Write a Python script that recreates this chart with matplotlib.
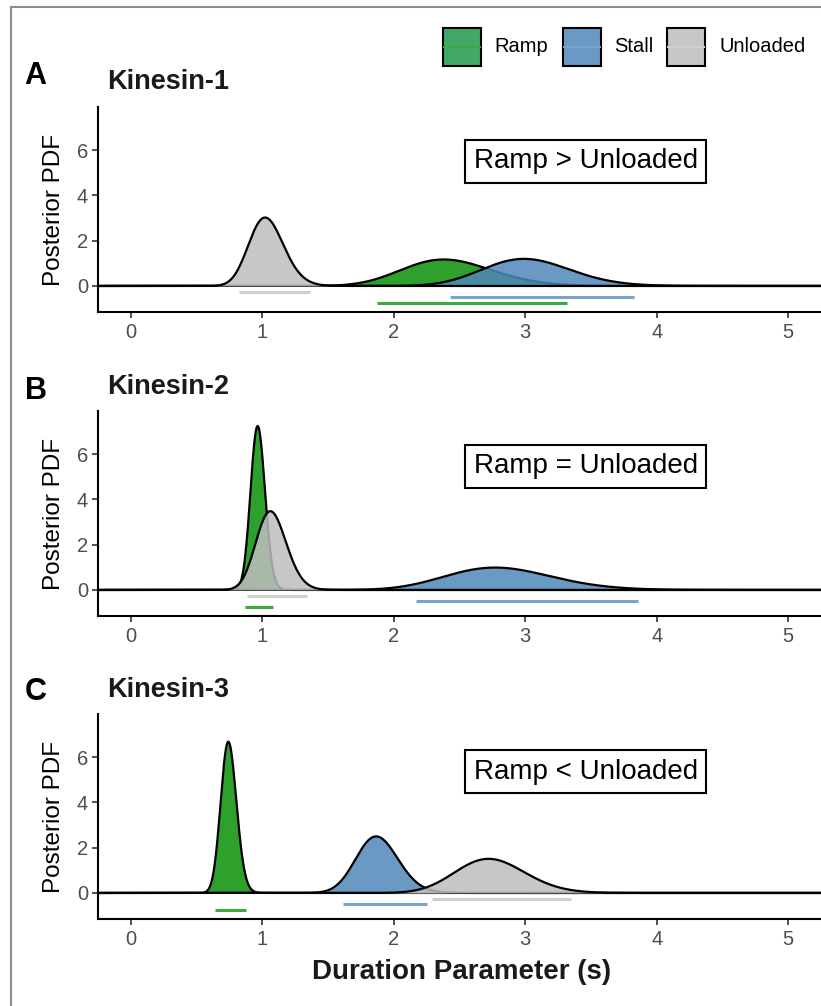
import math
import numpy as np
import matplotlib.pyplot as plt
from matplotlib.patches import Rectangle
from matplotlib.lines import Line2D

plt.rcParams['font.family'] = ['Liberation Sans', 'DejaVu Sans']

W, H = 821, 1006

conditions = ['Ramp', 'Stall', 'Unloaded']
fill_cols = ['#098f07', '#5088ba', '#bebebe']
key_cols = ['#1f9a4a', '#5088ba', '#bebebe']
bar_cols = ['#3aaa3a', '#7aa3cc', '#cfcfcf']
motors = ['Kinesin-1', 'Kinesin-2', 'Kinesin-3']
letters = ['A', 'B', 'C']
verdicts = ['Ramp > Unloaded', 'Ramp = Unloaded', 'Ramp < Unloaded']

# posterior peak location / height per motor, order Ramp, Stall, Unloaded
modes = [[2.38, 2.99, 1.02], [0.963, 2.77, 1.06], [0.74, 1.865, 2.72]]
peaks = [[1.16, 1.19, 3.0], [7.23, 0.98, 3.46], [6.66, 2.49, 1.5]]
# credible intervals (bars under the curves)
ci_lo = [[1.87, 2.43, 0.82], [0.87, 2.17, 0.88], [0.64, 1.61, 2.29]]
ci_hi = [[3.32, 3.83, 1.36], [1.08, 3.86, 1.34], [0.876, 2.25, 3.35]]
bar_y = [-0.75, -0.5, -0.25]
verdict_x = 3.46
verdict_y = [5.5, 5.45, 5.35]

xticks = [0, 1, 2, 3, 4, 5]
yticks = [0, 2, 4, 6]


def gamma_curve(x, m, h):
    # gamma density with given mode and (approx.) peak height
    s = 1 / (h * math.sqrt(2 * math.pi))
    u = (m / s + math.sqrt((m / s) ** 2 + 4)) / 2
    k, th = u * u, s / u
    out = np.zeros_like(x)
    ok = x > 0
    out[ok] = np.exp((k - 1) * np.log(x[ok]) - x[ok] / th
                     - math.lgamma(k) - k * math.log(th))
    return out


fig = plt.figure(figsize=(W / 100, H / 100), dpi=100)

def fx(px):
    return px / W

def fy(py):
    return 1 - py / H

xlim = (-0.254, 5.25)
ylim = (-1.15, 7.9)
tops = [107, 411, 714]
letter_y = [76, 391, 692]
title_y = [82, 387, 690]
ax_h = 205
ax_l, ax_r = 97.7, 821

xs = np.linspace(xlim[0], xlim[1], 3000)

for p in range(3):
    ax = fig.add_axes([fx(ax_l), fy(tops[p] + ax_h), (ax_r - ax_l) / W, ax_h / H])
    z = 2
    for i in range(3):
        yv = gamma_curve(xs, modes[p][i], peaks[p][i])
        ax.fill_between(xs, 0, yv, color=fill_cols[i], alpha=0.85, lw=0, zorder=z)
        ax.plot(xs, yv, color='black', lw=1.6, zorder=z + 0.5)
        z += 1
        ax.plot([ci_lo[p][i], ci_hi[p][i]], [bar_y[i], bar_y[i]],
                color=bar_cols[i], lw=2.2, solid_capstyle='butt', zorder=10)
    ax.set_xlim(xlim)
    ax.set_ylim(ylim)
    ax.set_xticks(xticks)
    ax.set_yticks(yticks)
    for s in ['top', 'right']:
        ax.spines[s].set_visible(False)
    for s in ['left', 'bottom']:
        ax.spines[s].set_linewidth(1.5)
    ax.tick_params(colors='#333333', labelcolor='#4d4d4d', labelsize=14.5,
                   length=4, width=1.2)
    ax.tick_params(axis='x', pad=4)
    ax.tick_params(axis='y', pad=3)
    ax.set_ylabel('Posterior PDF', fontsize=17.5)
    ax.yaxis.set_label_coords((65 - ax_l) / (ax_r - ax_l), 0.5)
    ax.text(verdict_x, verdict_y[p], verdicts[p], fontsize=20, ha='center',
            va='center', zorder=20,
            bbox=dict(boxstyle='square,pad=0.3', fc='white', ec='black', lw=1.5))
    fig.text(fx(35.5), fy(letter_y[p]), letters[p], fontsize=22,
             fontweight='bold', ha='center', va='center')
    fig.text(fx(107), fy(title_y[p]), motors[p], fontsize=19.5,
             fontweight='bold', ha='left', va='center', color='#1a1a1a')

fig.text(fx(462), fy(972), 'Duration Parameter (s)', fontsize=20,
         fontweight='bold', ha='center', va='center', color='#1a1a1a')

# legend
key_x = [443, 563, 667]
lab_x = [494, 614, 719]
for i in range(3):
    fig.add_artist(Rectangle((fx(key_x[i]), fy(66)), 38 / W, 38 / H,
                             transform=fig.transFigure, fc=key_cols[i],
                             alpha=0.85, ec='none'))
    fig.add_artist(Rectangle((fx(key_x[i]), fy(66)), 38 / W, 38 / H,
                             transform=fig.transFigure, fc='none',
                             ec='black', lw=1.5))
    fig.add_artist(Line2D([fx(key_x[i] + 1), fx(key_x[i] + 37)], [fy(47), fy(47)],
                          transform=fig.transFigure, color=bar_cols[i], lw=1.5))
    fig.text(fx(lab_x[i]), fy(47), conditions[i], fontsize=14.5,
             ha='left', va='center')

# grey frame left/top
fig.add_artist(Line2D([fx(11), fx(11)], [0, fy(7)], transform=fig.transFigure,
                      color='#8c8c8c', lw=1.5))
fig.add_artist(Line2D([fx(11), 1], [fy(7), fy(7)], transform=fig.transFigure,
                      color='#8c8c8c', lw=1.5))

fig.savefig('out.png', dpi=100)
